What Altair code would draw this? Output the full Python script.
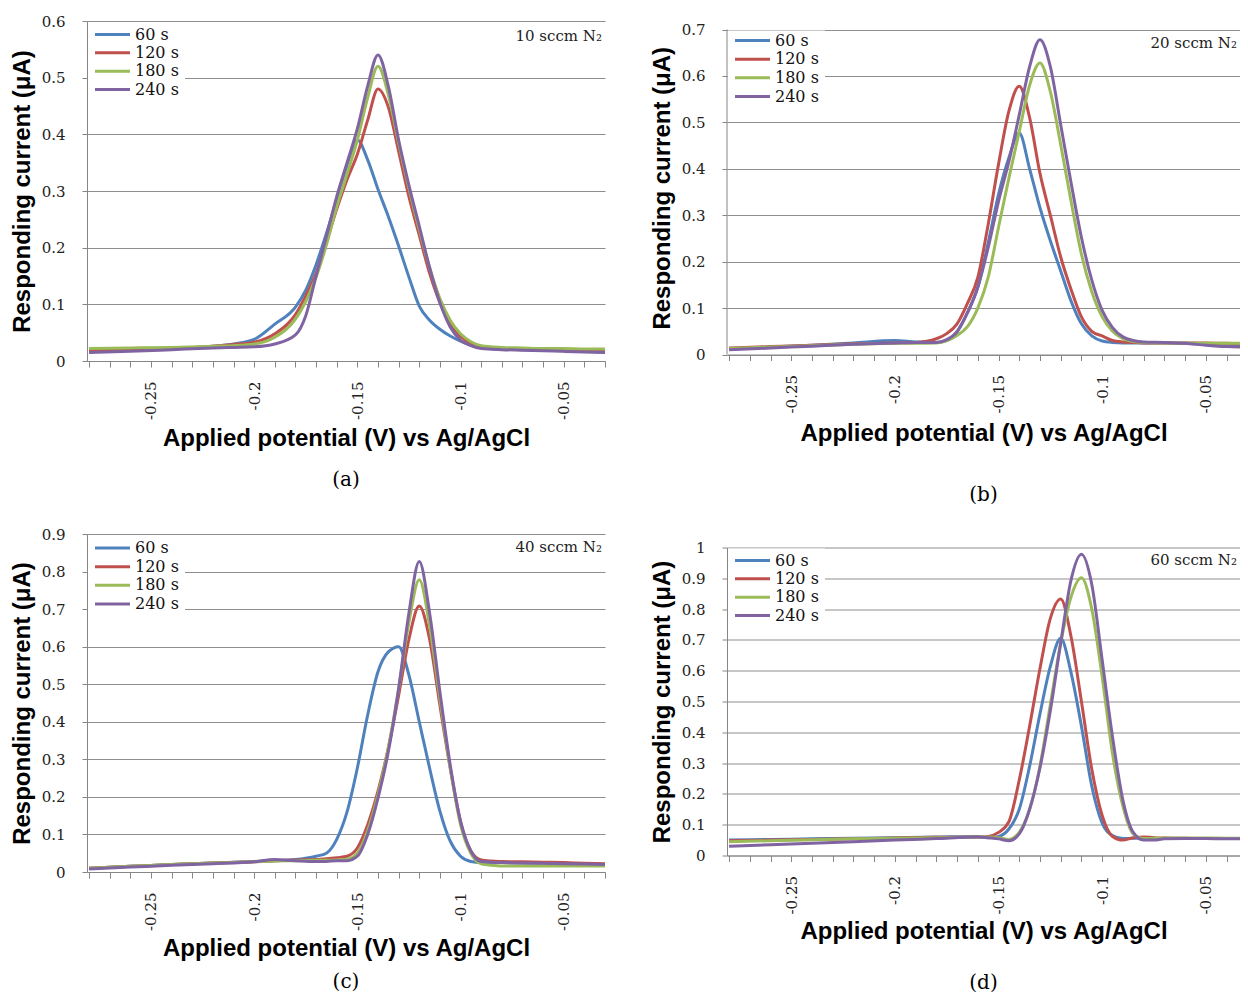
import altair as alt
import pandas as pd

SERIES = ["60 s", "120 s", "180 s", "240 s"]
COLORS = ["#4F81BD", "#C0504D", "#9BBB59", "#8064A2"]

# ---------------- Panel (a): 10 sccm N2 ----------------
A_X = [-0.28, -0.26, -0.24, -0.22, -0.21, -0.20, -0.19, -0.18, -0.175, -0.17, -0.165, -0.16,
       -0.155, -0.15, -0.145, -0.14, -0.135, -0.13, -0.125, -0.12, -0.115, -0.11, -0.105,
       -0.10, -0.095, -0.09, -0.08, -0.07, -0.06, -0.05, -0.04, -0.03]
A_60 = [0.018, 0.020, 0.022, 0.026, 0.030, 0.038, 0.065, 0.095, 0.125, 0.170, 0.225, 0.285,
        0.345, 0.390, 0.355, 0.303, 0.255, 0.203, 0.148, 0.097, 0.072, 0.056, 0.044,
        0.035, 0.028, 0.024, 0.021, 0.020, 0.019, 0.018, 0.017, 0.016]
A_120 = [0.018, 0.020, 0.022, 0.026, 0.029, 0.033, 0.048, 0.082, 0.115, 0.155, 0.210, 0.268,
         0.320, 0.365, 0.425, 0.480, 0.448, 0.370, 0.290, 0.222, 0.155, 0.103, 0.066,
         0.044, 0.032, 0.026, 0.022, 0.021, 0.020, 0.019, 0.018, 0.018]
A_180 = [0.022, 0.023, 0.024, 0.026, 0.027, 0.030, 0.042, 0.074, 0.105, 0.148, 0.205, 0.272,
         0.330, 0.390, 0.465, 0.520, 0.470, 0.385, 0.305, 0.232, 0.165, 0.110, 0.072,
         0.048, 0.034, 0.027, 0.024, 0.023, 0.022, 0.022, 0.021, 0.021]
A_240 = [0.015, 0.017, 0.020, 0.023, 0.024, 0.025, 0.030, 0.046, 0.080, 0.150, 0.220, 0.290,
         0.350, 0.410, 0.485, 0.540, 0.485, 0.390, 0.310, 0.238, 0.165, 0.103, 0.060,
         0.037, 0.027, 0.022, 0.020, 0.019, 0.018, 0.017, 0.016, 0.015]

# ---------------- Panel (b): 20 sccm N2 ----------------
B_X = [-0.28, -0.26, -0.24, -0.22, -0.20, -0.19, -0.18, -0.175, -0.17, -0.165, -0.16, -0.155,
       -0.15, -0.145, -0.14, -0.135, -0.13, -0.125, -0.12, -0.115, -0.11, -0.105, -0.10,
       -0.095, -0.09, -0.085, -0.08, -0.07, -0.06, -0.05, -0.04, -0.03]
B_60 = [0.012, 0.016, 0.020, 0.025, 0.030, 0.027, 0.026, 0.030, 0.049, 0.090, 0.145, 0.240,
        0.345, 0.424, 0.477, 0.400, 0.316, 0.245, 0.180, 0.115, 0.066, 0.040, 0.029,
        0.026, 0.025, 0.025, 0.025, 0.025, 0.024, 0.022, 0.020, 0.020]
B_120 = [0.014, 0.017, 0.020, 0.023, 0.025, 0.026, 0.034, 0.045, 0.066, 0.110, 0.166, 0.280,
         0.410, 0.524, 0.578, 0.510, 0.390, 0.300, 0.210, 0.140, 0.081, 0.050, 0.040,
         0.030, 0.027, 0.026, 0.025, 0.025, 0.025, 0.025, 0.024, 0.023]
B_180 = [0.013, 0.016, 0.019, 0.022, 0.024, 0.024, 0.025, 0.030, 0.041, 0.060, 0.100, 0.166,
         0.274, 0.380, 0.480, 0.580, 0.628, 0.566, 0.452, 0.330, 0.216, 0.135, 0.081,
         0.050, 0.034, 0.028, 0.026, 0.025, 0.025, 0.024, 0.024, 0.024]
B_240 = [0.010, 0.014, 0.018, 0.022, 0.025, 0.026, 0.026, 0.032, 0.049, 0.090, 0.145, 0.230,
         0.330, 0.416, 0.516, 0.620, 0.678, 0.620, 0.495, 0.370, 0.252, 0.160, 0.095,
         0.058, 0.038, 0.030, 0.027, 0.026, 0.024, 0.020, 0.017, 0.016]

# ---------------- Panel (c): 40 sccm N2 ----------------
C_X = [-0.28, -0.26, -0.24, -0.22, -0.20, -0.19, -0.18, -0.17, -0.165, -0.16, -0.155, -0.15,
       -0.145, -0.14, -0.135, -0.13, -0.125, -0.12, -0.115, -0.11, -0.105, -0.10, -0.095,
       -0.09, -0.085, -0.08, -0.07, -0.06, -0.05, -0.04, -0.03]
C_60 = [0.010, 0.015, 0.020, 0.024, 0.028, 0.030, 0.033, 0.042, 0.050, 0.087, 0.160, 0.277,
        0.418, 0.533, 0.586, 0.600, 0.524, 0.400, 0.277, 0.162, 0.082, 0.042, 0.028,
        0.025, 0.025, 0.025, 0.024, 0.023, 0.022, 0.021, 0.020]
C_120 = [0.010, 0.015, 0.020, 0.024, 0.027, 0.030, 0.032, 0.033, 0.035, 0.038, 0.042, 0.064,
         0.126, 0.215, 0.330, 0.470, 0.620, 0.708, 0.620, 0.444, 0.277, 0.135, 0.056,
         0.032, 0.029, 0.028, 0.027, 0.026, 0.025, 0.023, 0.022]
C_180 = [0.010, 0.015, 0.020, 0.024, 0.027, 0.029, 0.030, 0.031, 0.031, 0.032, 0.034, 0.050,
         0.110, 0.206, 0.330, 0.488, 0.665, 0.778, 0.656, 0.462, 0.277, 0.126, 0.050,
         0.022, 0.018, 0.016, 0.016, 0.016, 0.016, 0.016, 0.016]
C_240 = [0.008, 0.013, 0.018, 0.022, 0.027, 0.033, 0.030, 0.028, 0.028, 0.030, 0.030, 0.042,
         0.100, 0.197, 0.320, 0.488, 0.690, 0.827, 0.690, 0.480, 0.285, 0.135, 0.056,
         0.028, 0.026, 0.025, 0.024, 0.023, 0.022, 0.021, 0.020]

# ---------------- Panel (d): 60 sccm N2 ----------------
D_X = [-0.28, -0.26, -0.24, -0.22, -0.20, -0.18, -0.16, -0.155, -0.15, -0.145, -0.14, -0.135,
       -0.13, -0.125, -0.12, -0.115, -0.11, -0.105, -0.10, -0.095, -0.09, -0.085, -0.08,
       -0.075, -0.07, -0.06, -0.05, -0.04, -0.03]
D_60 = [0.050, 0.052, 0.054, 0.056, 0.058, 0.060, 0.062, 0.058, 0.062, 0.086, 0.150, 0.290,
        0.460, 0.614, 0.705, 0.593, 0.420, 0.225, 0.105, 0.065, 0.055, 0.056, 0.056,
        0.055, 0.055, 0.055, 0.055, 0.055, 0.055]
D_120 = [0.048, 0.050, 0.052, 0.054, 0.057, 0.059, 0.060, 0.062, 0.075, 0.110, 0.245, 0.420,
         0.607, 0.770, 0.833, 0.710, 0.500, 0.280, 0.130, 0.062, 0.050, 0.058, 0.060,
         0.058, 0.057, 0.056, 0.055, 0.055, 0.055]
D_180 = [0.045, 0.048, 0.051, 0.054, 0.056, 0.058, 0.060, 0.060, 0.058, 0.052, 0.075, 0.150,
         0.290, 0.490, 0.690, 0.840, 0.902, 0.800, 0.580, 0.330, 0.160, 0.070, 0.055,
         0.056, 0.057, 0.057, 0.057, 0.056, 0.056]
D_240 = [0.030, 0.035, 0.040, 0.045, 0.050, 0.055, 0.060, 0.058, 0.054, 0.048, 0.070, 0.150,
         0.285, 0.470, 0.690, 0.895, 0.978, 0.880, 0.635, 0.385, 0.180, 0.075, 0.050,
         0.050, 0.054, 0.055, 0.055, 0.054, 0.054]

NOTES = ["10 sccm N₂", "20 sccm N₂", "40 sccm N₂", "60 sccm N₂"]
TAGS = ["(a)", "(b)", "(c)", "(d)"]
Y_MAX = [0.6, 0.7, 0.9, 1.0]

X_MIN = -0.281
X_TICK_ALL = [round(-0.28 + 0.01 * i, 2) for i in range(26)]

COLOR_SCALE = alt.Scale(domain=SERIES, range=COLORS)
GREY = "#868686"


def to_long(xs, cols):
    rows = []
    for name, ys in zip(SERIES, cols):
        for x, y in zip(xs, ys):
            rows.append({"potential": x, "current": y, "time": name})
    return pd.DataFrame(rows)


def panel(df, ymax, note, tag, width, height, xmax, top_ext, tag_offset, note_y,
          title_pad, legend_rows):
    # top_ext: blank pixels kept above the highest gridline (panel sits lower than its neighbour)
    total_h = height + top_ext
    ydom = ymax if top_ext == 0 else ymax * total_h / height
    yscale = alt.Scale(domain=[0, ydom], nice=False)
    yvals = [round(0.1 * i, 1) for i in range(int(round(ymax * 10)) + 1)]
    xvals = [v for v in X_TICK_ALL if v <= xmax + 1e-9]
    lines = alt.Chart(df).mark_line(strokeWidth=3, interpolate="monotone", clip=True).encode(
        x=alt.X("potential:Q",
                scale=alt.Scale(domain=[X_MIN, xmax], nice=False, zero=False),
                axis=alt.Axis(title="Applied potential (V) vs Ag/AgCl", values=xvals,
                              labelExpr="round(datum.value*100) % 5 == 0 ? '-' + format(abs(datum.value), '.2~f') : ''",
                              labelAngle=270, grid=False, tickSize=6, labelPadding=14,
                              titlePadding=title_pad, labelOverlap=False, labelFlush=False)),
        y=alt.Y("current:Q", scale=yscale,
                axis=alt.Axis(title="Responding current (μA)", values=yvals,
                              labelExpr="format(datum.value, '.1~f')", grid=True,
                              domain=(top_ext == 0),
                              tickSize=5, labelPadding=17, titlePadding=7,
                              labelOverlap=False, labelFlush=False)),
        color=alt.Color("time:N", sort=SERIES, scale=COLOR_SCALE, legend=None),
    )

    # legend drawn inside the plot, top-left, on a white box
    leg_df = pd.DataFrame({"time": SERIES})
    leg_y = alt.Y("time:N", sort=SERIES,
                  scale=alt.Scale(type="point", domain=SERIES,
                                  range=[legend_rows[0] + top_ext, legend_rows[1] + top_ext],
                                  padding=0),
                  axis=None)
    box = alt.Chart(pd.DataFrame({"b": [0]})).mark_rect(fill="white").encode(
        x=alt.value(1), x2=alt.value(98), y=alt.value(1 + top_ext), y2=alt.value(80 + top_ext))
    leg_lines = alt.Chart(leg_df).mark_rule(strokeWidth=3).encode(
        x=alt.value(8), x2=alt.value(43), y=leg_y,
        color=alt.Color("time:N", sort=SERIES, scale=COLOR_SCALE, legend=None))
    leg_text = alt.Chart(leg_df).mark_text(
        align="left", baseline="middle", font="DejaVu Serif", fontSize=16, color="#111"
    ).encode(x=alt.value(48), y=leg_y, text="time:N")

    note_mark = alt.Chart(pd.DataFrame({"note": [note]})).mark_text(
        align="right", baseline="alphabetic", font="DejaVu Serif", fontSize=15, color="#222"
    ).encode(text="note:N", x=alt.value(width - 3), y=alt.value(note_y + top_ext))

    layers = [lines, box, leg_lines, leg_text, note_mark]
    if top_ext > 0:
        # y axis line drawn only up to the top gridline
        axis_line = alt.Chart(pd.DataFrame({"s": [0]})).mark_rule(color=GREY).encode(
            x=alt.value(0),
            y=alt.YDatum(0, scale=yscale, axis=None),
            y2=alt.datum(ymax))
        layers.append(axis_line)
    return alt.layer(*layers).resolve_scale(y="independent").properties(
        width=width, height=total_h,
        title=alt.TitleParams(tag, orient="bottom", font="DejaVu Serif", fontSize=20,
                              fontWeight="normal", offset=tag_offset, anchor="middle",
                              color="#000"))


pa = panel(to_long(A_X, [A_60, A_120, A_180, A_240]), Y_MAX[0], NOTES[0], TAGS[0],
           518, 340, -0.03, 0, 19.5, 20, 7.5, [13.5, 68.5])
pb = panel(to_long(B_X, [B_60, B_120, B_180, B_240]), Y_MAX[1], NOTES[1], TAGS[1],
           513, 325, -0.0335, 8.5, 39.5, 18, 9, [11, 67])
pc = panel(to_long(C_X, [C_60, C_120, C_180, C_240]), Y_MAX[2], NOTES[2], TAGS[2],
           518, 338, -0.03, 0, 11.5, 18, 6, [14, 70])
pd_ = panel(to_long(D_X, [D_60, D_120, D_180, D_240]), Y_MAX[3], NOTES[3], TAGS[3],
            513, 308, -0.0335, 0, 29, 17, 6, [13, 68])

left_col = alt.vconcat(pa, pc, spacing=36)
right_col = alt.vconcat(pb, pd_, spacing=34.5)

chart = alt.hconcat(left_col, right_col, spacing=37).properties(
    padding={"left": 2, "top": 6, "right": 0, "bottom": 0}
).configure(
    background="white"
).configure_view(
    stroke=None
).configure_axis(
    domainColor=GREY, tickColor=GREY, gridColor="#8e8e8e",
    labelFont="DejaVu Serif", labelFontSize=15, labelColor="#222",
    titleFont="Liberation Sans", titleFontSize=24, titleFontWeight="bold", titleColor="#000",
)

chart.save("out.html", embed_options={"renderer": "svg", "actions": False})
